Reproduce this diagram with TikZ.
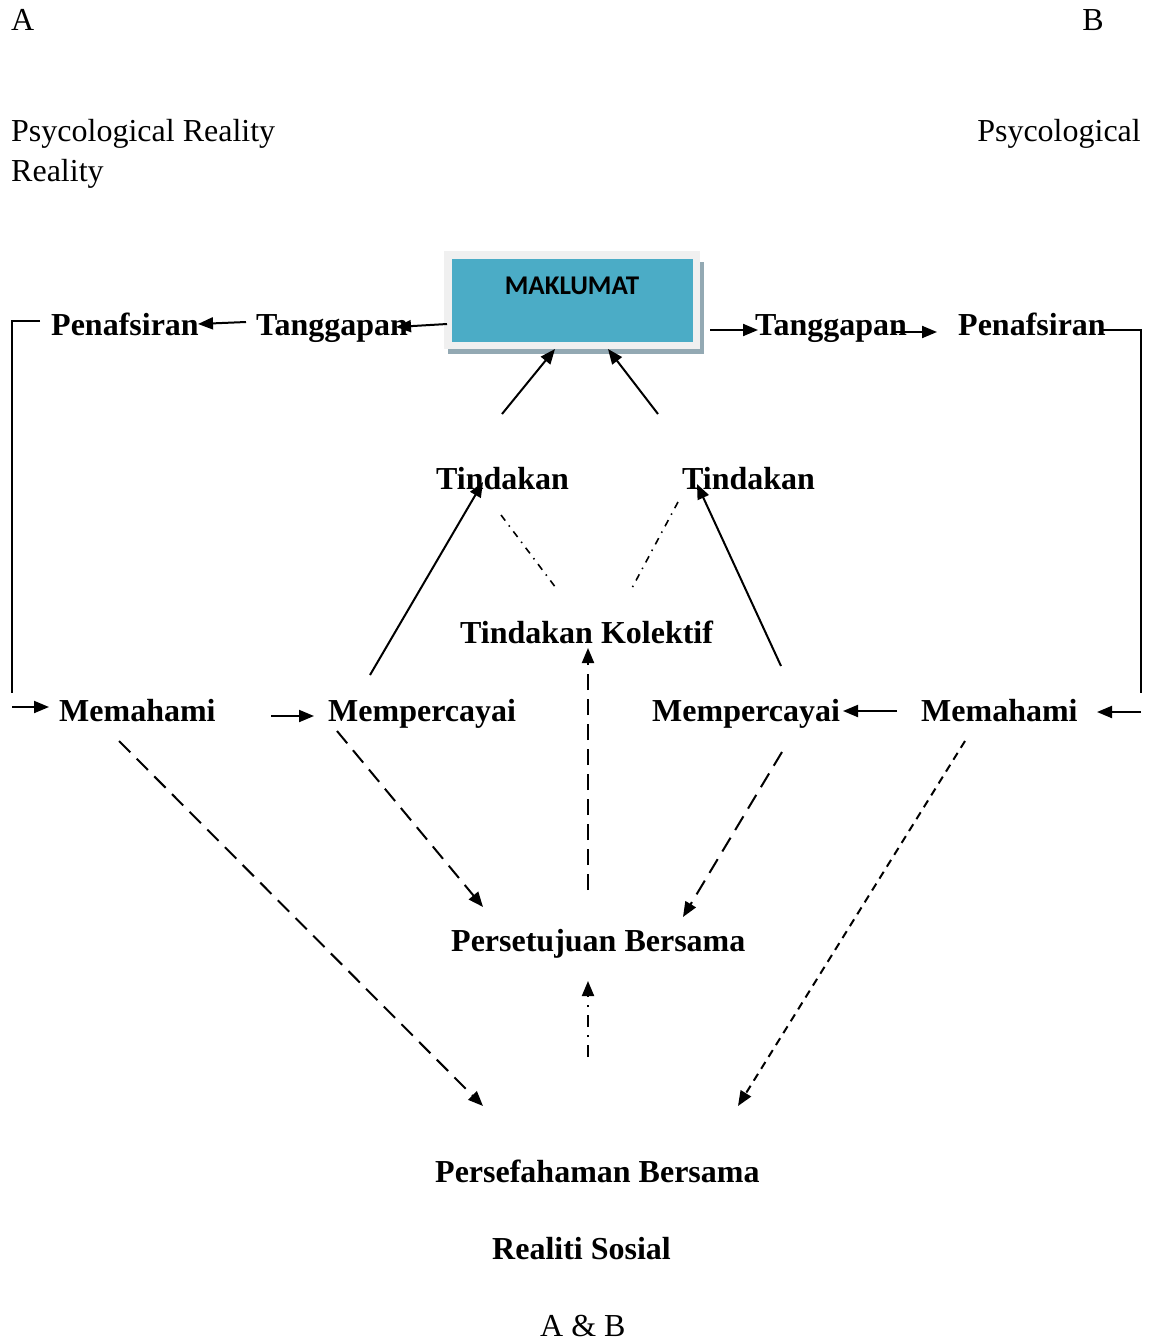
\documentclass[tikz,border=0pt]{standalone}
\usepackage{fontspec}
\setmainfont{Liberation Serif}
\newfontfamily\calib{Carlito}
\usetikzlibrary{arrows.meta}
\definecolor{teal1}{HTML}{4BACC6}
\definecolor{frame1}{HTML}{F0F0F0}
\definecolor{shadow1}{HTML}{93A9B3}
\tikzset{
  lbl/.style={inner sep=0pt, anchor=base west, font=\fontsize{32}{38}\selectfont\bfseries},
  plain/.style={inner sep=0pt, anchor=base west, font=\fontsize{32}{38}\selectfont},
  arrtip/.style={-{Triangle[length=15pt,width=12pt]}},
  arr/.style={line width=2pt, arrtip},
  ln/.style={line width=1.8pt},
  dsh/.style={line width=2pt, dash pattern=on 16pt off 9pt, arrtip},
  dshs/.style={line width=2pt, dash pattern=on 8pt off 6pt, arrtip},
  dshd/.style={line width=1.6pt, dash pattern=on 7pt off 6pt on 1.5pt off 6pt},
}
\begin{document}
\begin{tikzpicture}[x=1pt,y=-1pt]
\useasboundingbox (0,0) rectangle (1152,1344);
% header texts
\node[plain] (A) at (11,30) {A};
\node[plain, anchor=base east] (B) at (1104,30) {B};
\node[plain] (psyA) at (11,141) {Psycological Reality};
\node[plain] (realA) at (11,181) {Reality};
\node[plain, anchor=base east] (psyB) at (1141,141) {Psycological};
% MAKLUMAT box
\fill[shadow1] (448,262) rectangle (704,354);
\fill[frame1] (444,251) rectangle (700,349);
\fill[teal1] (452,259) rectangle (693,342);
\node[inner sep=0pt, font=\calib\fontsize{27}{30}\selectfont\bfseries] (mak) at (572,286) {MAKLUMAT};
% top row
\node[lbl] (penL) at (51,335) {Penafsiran};
\node[lbl] (tgL) at (256,335) {Tanggapan};
\node[lbl] (tgR) at (755,335) {Tanggapan};
\node[lbl] (penR) at (958,335) {Penafsiran};
% Tindakan
\node[lbl] (tinL) at (436,489) {Tindakan};
\node[lbl] (tinR) at (682,489) {Tindakan};
\node[lbl] (kol) at (460,643) {Tindakan Kolektif};
% row Memahami
\node[lbl] (memL) at (59,721) {Memahami};
\node[lbl] (mpL) at (328,721) {Mempercayai};
\node[lbl] (mpR) at (652,721) {Mempercayai};
\node[lbl] (memR) at (921,721) {Memahami};
% lower
\node[lbl] (pst) at (451,951) {Persetujuan Bersama};
\node[lbl] (psf) at (435,1182) {Persefahaman Bersama};
\node[lbl] (rs) at (492,1259) {Realiti Sosial};
\node[plain] (ab) at (540,1336) {A \& B};
% coordinates
\coordinate (c1) at (447,324); \coordinate (c2) at (396,327);
\coordinate (c3) at (246,322); \coordinate (c4) at (198,324);
\coordinate (c5) at (40,321); \coordinate (c6) at (12,321); \coordinate (c7) at (12,693);
\coordinate (c8) at (12,707); \coordinate (c9) at (49,707);
\coordinate (d1) at (710,330); \coordinate (d2) at (758,330);
\coordinate (d3) at (895,332); \coordinate (d4) at (937,332);
\coordinate (d5) at (1103,330); \coordinate (d6) at (1141,330); \coordinate (d7) at (1141,693);
\coordinate (d8) at (1141,712); \coordinate (d9) at (1097,712);
\coordinate (e1) at (502,414); \coordinate (e2) at (555,349);
\coordinate (e3) at (658,414); \coordinate (e4) at (608,349);
\coordinate (f1) at (501,515); \coordinate (f2) at (556,588);
\coordinate (f3) at (678,502); \coordinate (f4) at (632,588);
\coordinate (g1) at (370,675); \coordinate (g2) at (483,482);
\coordinate (g3) at (781,666); \coordinate (g4) at (697,484);
\coordinate (h1) at (271,716); \coordinate (h2) at (314,716);
\coordinate (h3) at (897,711); \coordinate (h4) at (843,711);
\coordinate (k1) at (588,890); \coordinate (k2) at (588,648);
\coordinate (m1) at (119,741); \coordinate (m2) at (483,1106);
\coordinate (n1) at (337,731); \coordinate (n2) at (483,907);
\coordinate (p1) at (782,752); \coordinate (p2) at (683,917);
\coordinate (q1) at (965,741); \coordinate (q2) at (738,1106);
\coordinate (r1) at (588,1057); \coordinate (r2) at (588,981);
% connectors
\draw[arr] (c1) -- (c2);
\draw[arr] (c3) -- (c4);
\draw[ln] (c5) -- (c6) -- (c7);
\draw[arr] (c8) -- (c9);
\draw[arr] (d1) -- (d2);
\draw[arr] (d3) -- (d4);
\draw[ln] (d5) -- (d6) -- (d7);
\draw[arr] (d8) -- (d9);
\draw[arr] (e1) -- (e2);
\draw[arr] (e3) -- (e4);
\draw[dshd] (f1) -- (f2);
\draw[dshd] (f3) -- (f4);
\draw[arr] (g1) -- (g2);
\draw[arr] (g3) -- (g4);
\draw[arr] (h1) -- (h2);
\draw[arr] (h3) -- (h4);
\draw[dsh] (k1) -- (k2);
\draw[dsh] (m1) -- (m2);
\draw[dsh] (n1) -- (n2);
\draw[dsh] (p1) -- (p2);
\draw[dshs] (q1) -- (q2);
\draw[line width=2pt, dash pattern=on 12pt off 8pt on 2pt off 8pt, arrtip] (r1) -- (r2);
\end{tikzpicture}
\end{document}
